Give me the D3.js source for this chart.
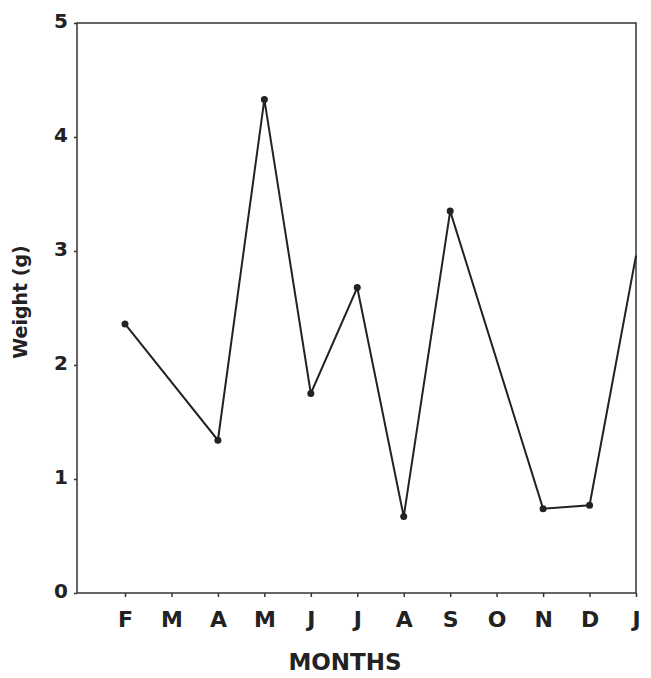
<!DOCTYPE html>
<html>
<head>
<meta charset="utf-8">
<script src="https://cdn.jsdelivr.net/npm/d3@7"></script>
<style>
  body { margin: 0; background: #fff; }
  text { font-family: "DejaVu Sans", sans-serif; font-weight: bold; fill: #222; }
</style>
</head>
<body>
<svg id="chart" width="651" height="678"></svg>
<script>
const months = ["F", "M", "A", "M", "J", "J", "A", "S", "O", "N", "D", "J"];
// month index of each sample and its weight
const sampleIdx = [0, 2, 3, 4, 5, 6, 7, 9, 10, 11];
const weights = [2.36, 1.34, 4.33, 1.75, 2.68, 0.67, 3.35, 0.74, 0.77, 2.96];
const yTicks = [0, 1, 2, 3, 4, 5];

const svg = d3.select("#chart");
const plot = { left: 77, right: 636, top: 23, bottom: 593 };

const x = d3.scaleLinear().domain([0, 11]).range([125, 636]);
const y = d3.scaleLinear().domain([0, 5]).range([plot.bottom, plot.top]);

// frame
svg.append("rect")
  .attr("x", plot.left).attr("y", plot.top)
  .attr("width", plot.right - plot.left).attr("height", plot.bottom - plot.top)
  .attr("fill", "none").attr("stroke", "#333").attr("stroke-width", 1.5);

// y axis
const yAxis = svg.append("g")
  .attr("transform", `translate(${plot.left},0)`)
  .call(d3.axisLeft(y).tickValues(yTicks).tickSize(3).tickFormat(d3.format("d")));
yAxis.select(".domain").remove();
yAxis.selectAll("line").attr("stroke", "#333").attr("stroke-width", 1.5);
yAxis.selectAll("text").attr("font-size", 20).attr("dx", -3).attr("dy", "0.2em");

// x axis
const xAxis = svg.append("g")
  .attr("transform", `translate(0,${plot.bottom})`)
  .call(d3.axisBottom(x).tickValues(d3.range(months.length)).tickSize(4).tickFormat(i => months[i]));
xAxis.select(".domain").remove();
xAxis.selectAll("line").attr("stroke", "#333").attr("stroke-width", 1.5);
xAxis.selectAll("text").attr("font-size", 22).attr("y", 0).attr("dy", 0)
  .attr("transform", "translate(0,34)");

// axis titles
svg.append("text")
  .attr("transform", "translate(27,302) rotate(-90)")
  .attr("text-anchor", "middle")
  .attr("font-size", 19)
  .text("Weight (g)");

svg.append("text")
  .attr("x", 345).attr("y", 670)
  .attr("text-anchor", "middle")
  .attr("font-size", 23)
  .text("MONTHS");

// series
const pts = sampleIdx.map((m, i) => ({ m: m, w: weights[i] }));

svg.append("path")
  .datum(pts)
  .attr("fill", "none")
  .attr("stroke", "#222")
  .attr("stroke-width", 2)
  .attr("d", d3.line().x(d => x(d.m)).y(d => y(d.w)));

svg.selectAll(".dot")
  .data(pts.slice(0, -1))
  .enter().append("circle")
  .attr("class", "dot")
  .attr("r", 3.5)
  .attr("cx", d => x(d.m))
  .attr("cy", d => y(d.w))
  .attr("fill", "#222");
</script>
</body>
</html>
